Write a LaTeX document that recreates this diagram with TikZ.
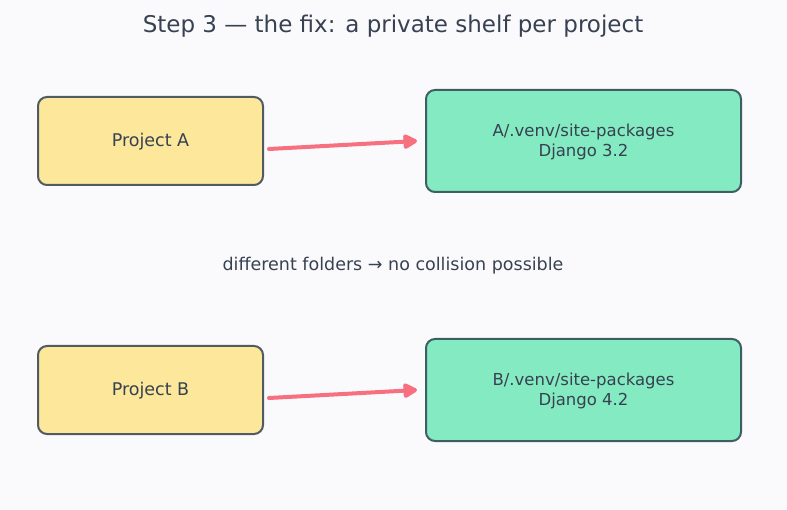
\documentclass[tikz,border=0pt]{standalone}
\usepackage{fontspec}
\setmainfont{DejaVu Sans}
\usetikzlibrary{calc,arrows.meta}
\definecolor{bg}{HTML}{FAFAFC}
\definecolor{txt}{HTML}{374151}
\definecolor{yel}{HTML}{FCE79B}
\definecolor{yelb}{HTML}{505A63}
\definecolor{grn}{HTML}{84EAC1}
\definecolor{grnb}{HTML}{3F5E62}
\definecolor{arr}{HTML}{F6707F}
\tikzset{
  projbox/.style={draw=yelb, fill=yel, line width=2pt, rounded corners=9pt, minimum width=225pt, minimum height=88pt, text=txt, font=\fontsize{17.5}{20}\selectfont, text height=15.5pt, text depth=4pt},
  venvbox/.style={draw=grnb, fill=grn, line width=2pt, rounded corners=9pt, minimum width=315pt, minimum height=102pt, text=txt, align=center, font=\fontsize{16.5}{20}\selectfont, text height=30.6pt, text depth=0pt},
  link/.style={draw=arr, line width=4pt, line cap=round, -{Triangle[length=16pt,width=16pt,round]}},
  lbl/.style={text=txt, font=\fontsize{17.5}{20}\selectfont}
}
\begin{document}
\begin{tikzpicture}[x=1pt,y=-1pt]
\fill[bg] (0,0) rectangle (787,510);
\useasboundingbox (0,0) rectangle (787,510);
\node[lbl, font=\fontsize{23}{26}\selectfont] (title) at (393,26) {Step 3 — the fix: a private shelf per project};
\node[projbox] (pa) at (150.5,141) {Project A};
\node[venvbox] (va) at (583.5,141) {A/.venv/site-packages\\Django 3.2};
\node[projbox] (pb) at (150.5,390) {Project B};
\node[venvbox] (vb) at (583.5,390) {B/.venv/site-packages\\Django 4.2};
\node[lbl] (mid) at (393,266) {different folders → no collision possible};
\coordinate (a1) at ($(pa.east)+(5,8)$);
\coordinate (a2) at ($(va.west)+(-8,0)$);
\coordinate (b1) at ($(pb.east)+(5,8)$);
\coordinate (b2) at ($(vb.west)+(-8,0)$);
\draw[link] (a1) -- (a2);
\draw[link] (b1) -- (b2);
\end{tikzpicture}
\end{document}
